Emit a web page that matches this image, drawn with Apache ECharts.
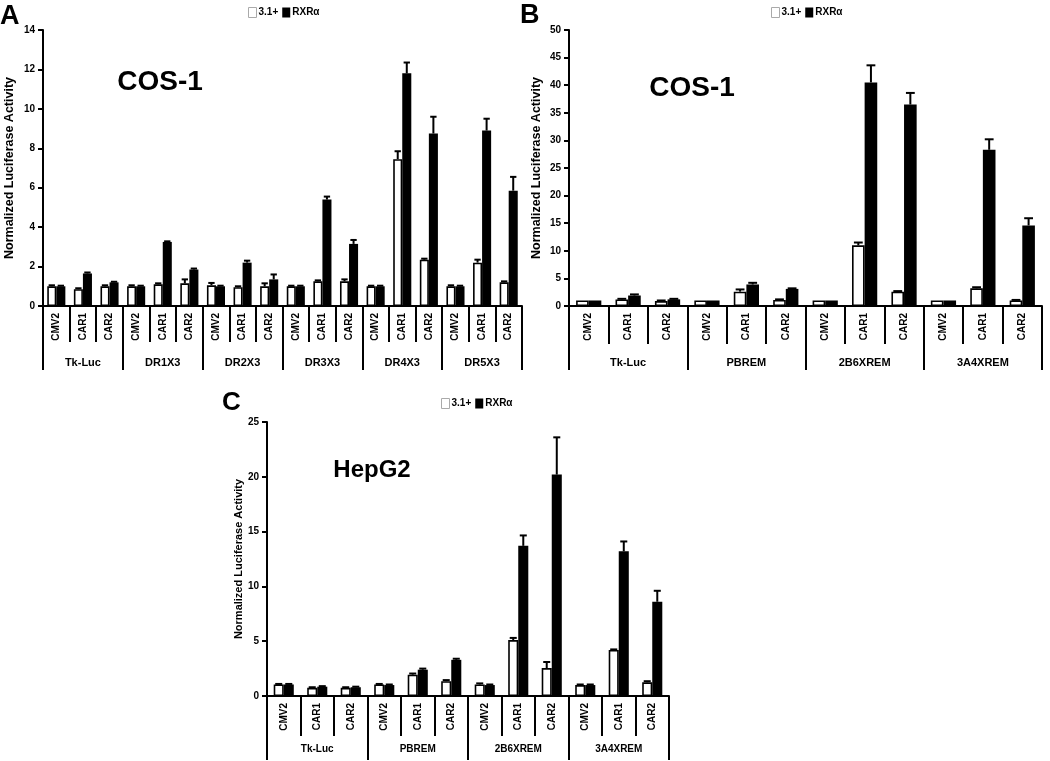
<!DOCTYPE html>
<html>
<head>
<meta charset="utf-8">
<script src="https://cdn.jsdelivr.net/npm/echarts@6/dist/echarts.min.js"></script>
<style>html,body{margin:0;padding:0;background:#fff}#c{width:1050px;height:761px}</style>
</head>
<body>
<div id="c"></div>
<script>
// ---- data ----
const subCats = ['CMV2', 'CAR1', 'CAR2'];
const groupsA = ['Tk-Luc', 'DR1X3', 'DR2X3', 'DR3X3', 'DR4X3', 'DR5X3'];
const groupsBC = ['Tk-Luc', 'PBREM', '2B6XREM', '3A4XREM'];
const seriesNames = ['3.1+', 'RXRα'];

const whiteA    = [1.0, 0.85, 1.0, 1.0, 1.1, 1.15, 1.05, 0.95, 1.0, 1.0, 1.25, 1.25, 1.0, 7.45, 2.35, 1.0, 2.2, 1.2];
const whiteErrA = [0.05, 0.05, 0.05, 0.05, 0.05, 0.2, 0.12, 0.05, 0.15, 0.03, 0.05, 0.1, 0.03, 0.4, 0.05, 0.05, 0.15, 0.05];
const blackA    = [1.0, 1.65, 1.2, 1.0, 3.25, 1.85, 1.0, 2.2, 1.35, 1.0, 5.4, 3.15, 1.0, 11.8, 8.75, 1.0, 8.9, 5.85];
const blackErrA = [0.03, 0.05, 0.03, 0.03, 0.03, 0.05, 0.03, 0.1, 0.25, 0.03, 0.15, 0.2, 0.03, 0.55, 0.85, 0.03, 0.6, 0.7];

const whiteB    = [1.0, 1.2, 0.9, 1.0, 2.6, 1.1, 1.0, 11.0, 2.6, 1.0, 3.2, 1.0];
const whiteErrB = [0, 0.1, 0.1, 0, 0.4, 0.1, 0, 0.5, 0.1, 0, 0.2, 0.1];
const blackB    = [1.0, 1.9, 1.2, 1.0, 3.9, 3.1, 1.0, 40.5, 36.5, 1.0, 28.3, 14.6];
const blackErrB = [0, 0.2, 0.1, 0, 0.3, 0.1, 0, 3.1, 2.1, 0, 1.9, 1.3];

const whiteC    = [1.05, 0.75, 0.75, 1.05, 1.95, 1.35, 1.05, 5.1, 2.55, 1.0, 4.2, 1.25];
const whiteErrC = [0.05, 0.05, 0.05, 0.05, 0.1, 0.1, 0.1, 0.2, 0.55, 0.05, 0.05, 0.1];
const blackC    = [1.05, 0.85, 0.8, 1.0, 2.4, 3.3, 1.0, 13.7, 20.2, 1.0, 13.2, 8.6];
const blackErrC = [0.05, 0.05, 0.05, 0.05, 0.1, 0.1, 0.05, 0.95, 3.4, 0.05, 0.9, 1.0];

const yTitle = 'Normalized Luciferase Activity';

// ---- build ----
const FONT = '"Liberation Sans", Arial, sans-serif';
function catList(groups) { const a = []; groups.forEach(() => subCats.forEach(s => a.push(s))); return a; }

const panels = [
  { grid: { left: 43, top: 30, width: 479, height: 276 }, groups: groupsA, white: whiteA, wErr: whiteErrA, black: blackA, bErr: blackErrA,
    max: 14, interval: 2, frac: 0.34, nameGap: 27, nameSize: 12.5, catSize: 10, grpSize: 11, tickSize: 10, catTick: 36, grpTick: 64, grpMargin: 51 },
  { grid: { left: 569, top: 30, width: 473, height: 276 }, groups: groupsBC, white: whiteB, wErr: whiteErrB, black: blackB, bErr: blackErrB,
    max: 50, interval: 5, frac: 0.32, nameGap: 26, nameSize: 12.5, catSize: 10, grpSize: 11, tickSize: 10, catTick: 38, grpTick: 64, grpMargin: 51 },
  { grid: { left: 267, top: 422, width: 402, height: 274 }, groups: groupsBC, white: whiteC, wErr: whiteErrC, black: blackC, bErr: blackErrC,
    max: 25, interval: 5, frac: 0.30, nameGap: 19, nameSize: 11, catSize: 10, grpSize: 10, tickSize: 10, catTick: 40, grpTick: 64, grpMargin: 48 }
];

const grids = [], xAxes = [], yAxes = [], series = [];

function errSeries(xi, yi, vals, errs, side, frac) {
  return {
    type: 'custom', xAxisIndex: xi, yAxisIndex: yi, z: 5, silent: true,
    data: vals.map((v, i) => [i, v, errs[i]]),
    renderItem: function (params, api) {
      const i = api.value(0), v = api.value(1), e = api.value(2);
      if (!e) return;
      const p0 = api.coord([i, v]);
      const p1 = api.coord([i, v + e]);
      const band = api.size([1, 0])[0];
      const w = band * frac;
      const x = p0[0] + side * w / 2;
      const cap = w * 0.7;
      return {
        type: 'group',
        children: [
          { type: 'line', shape: { x1: x, y1: p0[1], x2: x, y2: p1[1] }, style: { stroke: '#000', lineWidth: 2 } },
          { type: 'line', shape: { x1: x - cap / 2, y1: p1[1], x2: x + cap / 2, y2: p1[1] }, style: { stroke: '#000', lineWidth: 2 } }
        ]
      };
    }
  };
}

panels.forEach((p, gi) => {
  grids.push(Object.assign({ containLabel: false }, p.grid));
  const cats = catList(p.groups);
  const xi = xAxes.length;
  xAxes.push({
    type: 'category', gridIndex: gi, data: cats, position: 'bottom',
    axisLine: { show: true, lineStyle: { color: '#000', width: 2 } },
    axisTick: { show: true, interval: 0, length: p.catTick, lineStyle: { color: '#000', width: 2 } },
    axisLabel: { interval: 0, rotate: 90, margin: 7, color: '#000', fontWeight: 'bold', fontSize: p.catSize, fontFamily: FONT }
  });
  xAxes.push({
    type: 'category', gridIndex: gi, data: p.groups, position: 'bottom',
    axisLine: { show: false },
    axisTick: { show: true, interval: 0, length: p.grpTick, lineStyle: { color: '#000', width: 2 } },
    axisLabel: { interval: 0, margin: p.grpMargin, color: '#000', fontWeight: 'bold', fontSize: p.grpSize, fontFamily: FONT }
  });
  yAxes.push({
    type: 'value', gridIndex: gi, min: 0, max: p.max, interval: p.interval,
    name: yTitle, nameLocation: 'middle', nameGap: p.nameGap,
    nameTextStyle: { color: '#000', fontWeight: 'bold', fontSize: p.nameSize, fontFamily: FONT },
    axisLine: { show: true, lineStyle: { color: '#000', width: 2 } },
    axisTick: { show: true, length: 5, lineStyle: { color: '#000', width: 2 } },
    splitLine: { show: false },
    axisLabel: { color: '#000', fontWeight: 'bold', fontSize: p.tickSize, fontFamily: FONT, margin: 8 }
  });
  const bw = (p.frac * 100) + '%';
  series.push({
    name: seriesNames[0], type: 'bar', xAxisIndex: xi, yAxisIndex: gi, data: p.white,
    barWidth: bw, barGap: '0%',
    itemStyle: { color: '#fff', borderColor: '#000', borderWidth: 1.6 }
  });
  series.push({
    name: seriesNames[1], type: 'bar', xAxisIndex: xi, yAxisIndex: gi, data: p.black,
    barWidth: bw, barGap: '0%',
    itemStyle: { color: '#000' }
  });
  series.push(errSeries(xi, gi, p.white, p.wErr, -1, p.frac));
  series.push(errSeries(xi, gi, p.black, p.bErr, 1, p.frac));
});

function legendAt(left, top) {
  return {
    left: left, top: top, icon: 'rect', itemWidth: 8, itemHeight: 10, itemGap: 4,
    textStyle: { color: '#000', fontWeight: 'bold', fontSize: 10, fontFamily: FONT, padding: [0, 0, 0, -3] },
    data: [
      { name: seriesNames[0], itemStyle: { color: '#fff', borderColor: '#aaa', borderWidth: 1 } },
      { name: seriesNames[1], itemStyle: { color: '#000' } }
    ],
    selectedMode: false
  };
}

function txt(x, y, s, size, align) {
  return { type: 'text', x: x, y: y, silent: true,
    style: { text: s, fill: '#000', font: 'bold ' + size + 'px ' + FONT, textAlign: align || 'left', textVerticalAlign: 'middle' } };
}

const option = {
  backgroundColor: '#fff',
  animation: false,
  grid: grids,
  xAxis: xAxes,
  yAxis: yAxes,
  series: series,
  legend: [legendAt(243, 2), legendAt(766, 2), legendAt(436, 393)],
  graphic: [
    txt(0, 17, 'A', 27),
    txt(520, 16, 'B', 27),
    txt(222, 403, 'C', 26),
    txt(160, 82, 'COS-1', 28, 'center'),
    txt(692, 88, 'COS-1', 28, 'center'),
    txt(372, 470, 'HepG2', 24, 'center')
  ]
};

const chart = echarts.init(document.getElementById('c'), null, { renderer: 'canvas' });
chart.setOption(option);
</script>
</body>
</html>
